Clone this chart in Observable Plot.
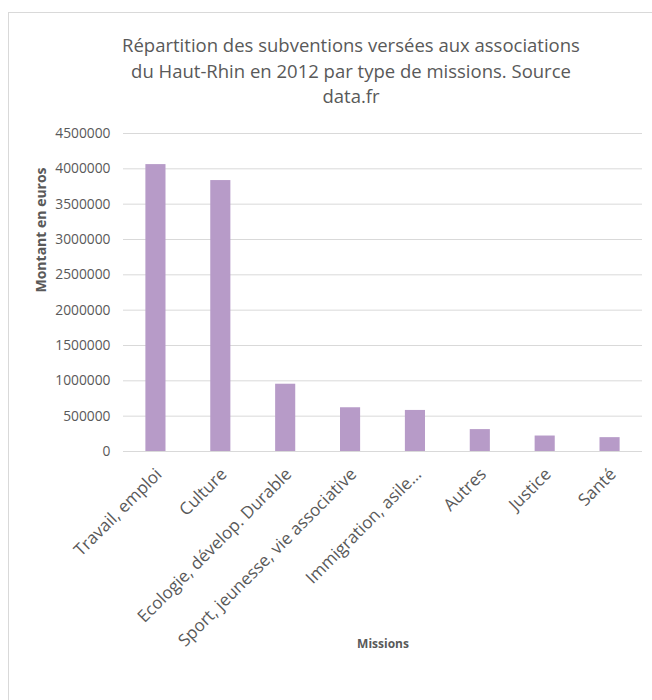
<!DOCTYPE html>
<html>
<head>
<meta charset="utf-8">
<script src="https://cdn.jsdelivr.net/npm/d3@7"></script>
<script src="https://cdn.jsdelivr.net/npm/@observablehq/plot@0.6"></script>
<style>
  html, body { margin: 0; padding: 0; background: #fff; }
  body { width: 652px; height: 700px; position: relative; overflow: hidden; font-family: "Open Sans", sans-serif; }
  #frame { position: absolute; left: 8px; top: 12px; width: 700px; height: 720px; border: 1px solid #d9d9d9; box-sizing: border-box; }
  #title { position: absolute; left: 8px; width: 686px; top: 32px; text-align: center; color: #595959; font-size: 18.5px; line-height: 25.5px; }
  #chart { position: absolute; left: 0; top: 0; }
</style>
</head>
<body>
<div id="frame"></div>
<div id="title">Répartition des subventions versées aux associations<br>du Haut-Rhin en 2012 par type de missions. Source<br>data.fr</div>
<div id="chart"></div>
<script>
const categories = ["Travail, emploi", "Culture", "Ecologie, dévelop. Durable", "Sport, jeunesse, vie associative", "Immigration, asile…", "Autres", "Justice", "Santé"];
const montants = [4060000, 3834000, 952000, 619000, 581000, 310000, 219000, 196000];
const yTicks = [0, 500000, 1000000, 1500000, 2000000, 2500000, 3000000, 3500000, 4000000, 4500000];
const yTitle = "Montant en euros";
const xTitle = "Missions";

const data = categories.map((c, i) => ({mission: c, montant: montants[i]}));

const chart = Plot.plot({
  width: 652,
  height: 700,
  marginTop: 133,
  marginBottom: 249,
  marginLeft: 123,
  marginRight: 10,
  style: {fontFamily: "'Open Sans', sans-serif", fontSize: "13.8px", color: "#595959", background: "transparent"},
  x: {domain: categories, paddingInner: 0.69, paddingOuter: 0.345, round: false, label: null},
  y: {domain: [0, 4500000], label: null},
  marks: [
    Plot.gridY(yTicks, {stroke: "#d9d9d9", strokeOpacity: 1, strokeWidth: 1}),
    Plot.barY(data, {x: "mission", y: "montant", fill: "#b79bc8"}),
    Plot.ruleY([0], {stroke: "#d9d9d9", strokeWidth: 1}),
    Plot.axisY(yTicks, {tickSize: 0, tickPadding: 13, tickFormat: d => String(d), label: null, fill: "#595959"}),
    Plot.axisX({tickSize: 0, tickRotate: -45, tickPadding: 20, dx: 3, label: null, fill: "#595959", fontSize: 17}),
    Plot.text([yTitle], {frameAnchor: "left", dx: -82, rotate: -90, fontWeight: "bold", fontSize: 14, fill: "#595959"}),
    Plot.text([xTitle], {frameAnchor: "bottom", dy: 196, fontWeight: "bold", fontSize: 12, fill: "#595959"})
  ]
});
document.getElementById("chart").appendChild(chart);
</script>
</body>
</html>
